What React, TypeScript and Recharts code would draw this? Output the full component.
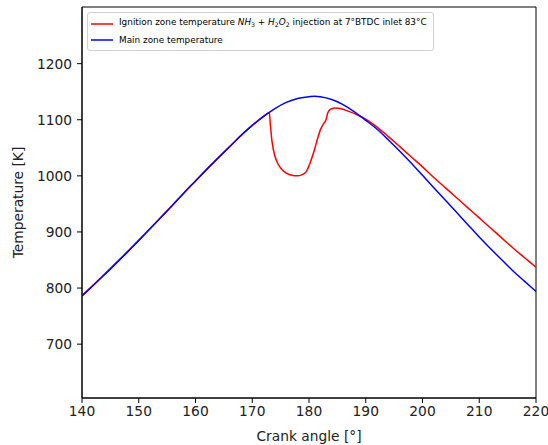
import React from "react";
import { LineChart, Line, XAxis, YAxis, ReferenceArea, Label } from "recharts";

const blueAngles = [140, 142, 144, 146, 148, 150, 152, 154, 156, 158, 160, 162, 164, 166, 168, 170, 172, 174, 176, 178, 180, 181, 182, 184, 186, 188, 190, 192, 194, 196, 198, 200, 202, 204, 206, 208, 210, 212, 214, 216, 218, 220];
const blueTemps = [786, 805, 824, 844, 864, 885, 906, 927, 948, 970, 991, 1012, 1032, 1052, 1072, 1090, 1106, 1120, 1131, 1138, 1141, 1142, 1141, 1136, 1127, 1114, 1099, 1083, 1064, 1044, 1023, 1001, 979, 957, 935, 913, 891, 870, 850, 830, 812, 794];

const redAngles = [140, 150, 160, 166, 170, 172, 173, 173.2, 173.5, 174, 174.5, 175, 176, 177, 178, 179, 179.6, 180, 180.5, 181, 181.5, 182, 182.5, 183, 183.3, 183.7, 184.5, 185.5, 187, 188.5, 190, 192, 194, 196, 198, 200, 202, 204, 206, 208, 210, 212, 214, 216, 218, 220];
const redTemps = [786, 885, 991, 1052, 1090, 1106, 1113, 1090, 1060, 1035, 1022, 1014, 1005, 1001, 1000, 1003, 1009, 1018, 1032, 1048, 1066, 1082, 1092, 1100, 1112, 1118, 1121, 1120, 1115, 1109, 1101, 1087, 1070, 1052, 1034, 1016, 997, 979, 961, 943, 925, 907, 889, 871, 854, 837];

const xTicks = [140, 150, 160, 170, 180, 190, 200, 210, 220];
const yTicks = [700, 800, 900, 1000, 1100, 1200];

const blueData = blueAngles.map((x, i) => ({ x, y: blueTemps[i] }));
const redData = redAngles.map((x, i) => ({ x, y: redTemps[i] }));

const FONT = "'DejaVu Sans', sans-serif";

const Sample = ({ color }: { color: string }) => (
  <svg width={22} height={6} style={{ marginRight: 6, flex: "none" }}>
    <line x1={0} y1={3} x2={22} y2={3} stroke={color} strokeWidth={1.5} />
  </svg>
);

const LegendBox = () => (
  <div
    style={{
      position: "absolute",
      left: 87,
      top: 12,
      fontFamily: FONT,
      fontSize: 8.9,
      color: "#000",
      border: "1px solid #d0d0d0",
      borderRadius: 3,
      background: "rgba(255,255,255,0.8)",
      padding: "2px 6px 2px 3px",
      lineHeight: "15.5px",
      whiteSpace: "nowrap",
    }}
  >
    <div style={{ display: "flex", alignItems: "center" }}>
      <Sample color="#ff0000" />
      <span>
        Ignition zone temperature <i>NH</i>
        <sub style={{ fontSize: 6.2, verticalAlign: -2 }}>3</sub> + <i>H</i>
        <sub style={{ fontSize: 6.2, verticalAlign: -2 }}>2</sub>
        <i>O</i>
        <sub style={{ fontSize: 6.2, verticalAlign: -2 }}>2</sub> injection at 7°BTDC inlet 83°C
      </span>
    </div>
    <div style={{ display: "flex", alignItems: "center" }}>
      <Sample color="#0000ff" />
      <span>Main zone temperature</span>
    </div>
  </div>
);

export default function App() {
  return (
    <div style={{ position: "absolute", left: 0, top: 0, width: 548, height: 445, background: "#fff" }}>
      <LineChart width={548} height={445} margin={{ top: 7, right: 12, bottom: 0, left: 0 }}>
        <XAxis
          type="number"
          dataKey="x"
          domain={[140, 220]}
          ticks={xTicks}
          allowDataOverflow
          height={47}
          stroke="#000"
          tickSize={5}
          tickMargin={3}
          tick={{ fill: "#222", fontFamily: FONT, fontSize: 13.8 }}
        >
          <Label value="Crank angle [°]" position="insideBottom" offset={4} style={{ fill: "#222", fontFamily: FONT, fontSize: 13.8 }} />
        </XAxis>
        <YAxis
          type="number"
          dataKey="y"
          domain={[604, 1301]}
          ticks={yTicks}
          allowDataOverflow
          width={82}
          stroke="#000"
          tickSize={5}
          tickMargin={5}
          tick={{ fill: "#222", fontFamily: FONT, fontSize: 13.8 }}
        >
          <Label value="Temperature [K]" angle={-90} position="insideLeft" offset={18} style={{ fill: "#222", fontFamily: FONT, fontSize: 13.8, textAnchor: "middle" }} />
        </YAxis>
        <ReferenceArea x1={140} x2={220} y1={604} y2={1301} fill="none" stroke="#000" strokeWidth={1} ifOverflow="visible" />
        <Line data={redData} dataKey="y" type="monotone" stroke="#ff0000" strokeWidth={1.5} dot={false} isAnimationActive={false} />
        <Line data={blueData} dataKey="y" type="monotone" stroke="#0000ff" strokeWidth={1.5} dot={false} isAnimationActive={false} />
      </LineChart>
      <LegendBox />
    </div>
  );
}
